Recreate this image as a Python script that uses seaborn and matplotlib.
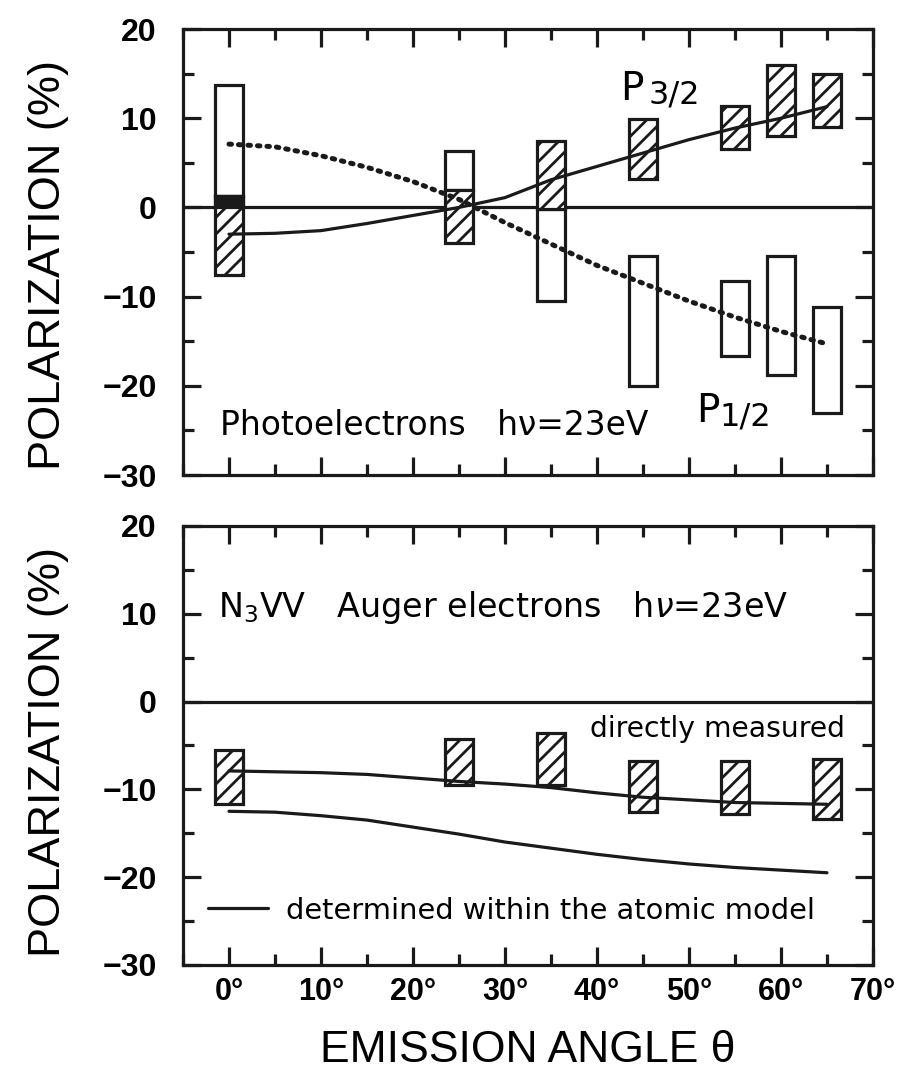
import numpy as np
import pandas as pd
import seaborn as sns
import matplotlib
matplotlib.use('Agg')
import matplotlib.pyplot as plt
from matplotlib.lines import Line2D
from matplotlib.ticker import MultipleLocator

# measured boxes, photoelectrons (upper panel)
box_angles = [0, 25, 35, 45, 55, 60, 65]
p32_lo = [-7.6, -4.0, -0.2, 3.2, 6.6, 8.0, 9.0]
p32_hi = [1.3, 1.9, 7.4, 9.9, 11.4, 16.0, 15.0]
p12_lo = [1.3, 1.9, -10.5, -20.0, -16.7, -18.8, -23.0]
p12_hi = [13.7, 6.3, -0.2, -5.5, -8.2, -5.5, -11.2]
overlap_angle = [0]
overlap_lo = [0.0]
overlap_hi = [1.3]

# theory curves, photoelectrons
curve_angles = [0, 5, 10, 15, 20, 25, 30, 35, 40, 45, 50, 55, 60, 65]
p32_curve = [-3.0, -2.9, -2.6, -1.8, -0.9, 0.0, 1.1, 3.1, 4.6, 6.1, 7.6, 8.9, 10.0, 11.3]
p12_curve = [7.1, 6.8, 5.8, 4.5, 2.9, 0.9, -1.7, -4.1, -6.5, -8.5, -10.5, -12.3, -13.9, -15.3]

# Auger electrons (lower panel)
auger_angles = [0, 25, 35, 45, 55, 65]
auger_lo = [-11.7, -9.5, -9.5, -12.6, -12.8, -13.4]
auger_hi = [-5.5, -4.3, -3.6, -6.8, -6.8, -6.5]
measured_curve = [-7.9, -8.0, -8.1, -8.3, -8.7, -9.1, -9.4, -9.8, -10.4, -10.9, -11.2, -11.5, -11.6, -11.7]
atomic_curve = [-12.5, -12.6, -13.0, -13.5, -14.3, -15.1, -16.0, -16.7, -17.4, -18.0, -18.5, -18.9, -19.2, -19.5]

yticks = [-30, -20, -10, 0, 10, 20]
ytick_labels = ['\u221230', '\u221220', '\u221210', '0', '10', '20']
xticks = [0, 10, 20, 30, 40, 50, 60, 70]
xtick_labels = ['0°', '10°', '20°', '30°', '40°', '50°', '60°', '70°']

sns.set_theme(style='white')
plt.rcParams['font.family'] = ['Liberation Sans', 'DejaVu Sans']
plt.rcParams['hatch.linewidth'] = 2.0
plt.rcParams['hatch.color'] = 'black'
for key in ['text.color', 'axes.labelcolor', 'xtick.color', 'ytick.color', 'axes.edgecolor']:
    plt.rcParams[key] = 'black'

fig = plt.figure(figsize=(9.01, 10.88), dpi=100)
ax1 = fig.add_axes([0.2031, 0.5634, 0.7658, 0.4099])
ax2 = fig.add_axes([0.2031, 0.1131, 0.7658, 0.4035])

BW = 3.0
LW = 2.3
INNER = ['DejaVu Sans']


def style(ax, show_x, label_y):
    ax.set_xlim(-5, 70)
    ax.set_ylim(-30, 20)
    ax.set_yticks(yticks, ytick_labels)
    ax.set_xticks(xticks, xtick_labels if show_x else [])
    ax.xaxis.set_minor_locator(MultipleLocator(5))
    ax.yaxis.set_minor_locator(MultipleLocator(5))
    ax.tick_params(which='both', direction='in', top=True, right=True,
                   bottom=True, left=True, width=LW, color='k')
    ax.tick_params(which='major', length=13)
    ax.tick_params(which='minor', length=8)
    ax.tick_params(axis='y', labelsize=23, pad=19)
    ax.tick_params(axis='x', labelsize=22, pad=9)
    for lab in ax.get_yticklabels() + ax.get_xticklabels():
        lab.set_fontweight('bold')
    for s in ax.spines.values():
        s.set_linewidth(LW)
        s.set_color('k')
    ax.axhline(0, color='k', lw=LW, zorder=2)
    ax.set_ylabel('POLARIZATION (%)', fontsize=32.5)
    ax.yaxis.set_label_coords(-0.165, label_y)


style(ax1, False, 0.47)
style(ax2, True, 0.484)

# upper panel
ax1.bar(box_angles, np.subtract(p12_hi, p12_lo), bottom=p12_lo, width=BW,
        facecolor='white', edgecolor='k', linewidth=LW, zorder=3)
ax1.bar(box_angles, np.subtract(p32_hi, p32_lo), bottom=p32_lo, width=BW,
        facecolor='white', edgecolor='k', linewidth=LW, hatch='//', zorder=3)
ax1.bar(overlap_angle, np.subtract(overlap_hi, overlap_lo), bottom=overlap_lo,
        width=BW, facecolor='k', edgecolor='k', linewidth=LW, zorder=3)
sns.lineplot(x=curve_angles, y=p32_curve, ax=ax1, color='k', lw=LW, zorder=4)
sns.lineplot(x=curve_angles, y=p12_curve, ax=ax1, color='k', lw=3.6,
             linestyle=(0, (0.5, 1.4)), dash_capstyle='round', zorder=4)
ax1.text(-1.0, -24.4, 'Photoelectrons   h\u03bd=23eV', fontsize=23.7,
         family=INNER, va='center', ha='left')
ax1.text(42.5, 12.0, 'P', fontsize=28, family=INNER, va='baseline', ha='left')
ax1.text(45.6, 11.7, '3/2', fontsize=23, family=INNER, va='baseline', ha='left')
ax1.text(50.8, -24.1, 'P', fontsize=28, family=INNER, va='baseline', ha='left')
ax1.text(53.3, -24.4, '1/2', fontsize=23, family=INNER, va='baseline', ha='left')

# lower panel
ax2.bar(auger_angles, np.subtract(auger_hi, auger_lo), bottom=auger_lo, width=BW,
        facecolor='white', edgecolor='k', linewidth=LW, hatch='//', zorder=3)
sns.lineplot(x=curve_angles, y=measured_curve, ax=ax2, color='k', lw=LW, zorder=4)
sns.lineplot(x=curve_angles, y=atomic_curve, ax=ax2, color='k', lw=LW, zorder=4)
ax2.text(-1.2, 10.7, r'N$\mathregular{_3}$VV   Auger electrons   h$\nu$=23eV',
         fontsize=24, family=INNER, va='center', ha='left')
ax2.text(67.0, -3.1, 'directly measured', fontsize=20.3, family=INNER,
         va='center', ha='right')
handle = Line2D([], [], color='k', lw=LW)
ax2.legend([handle], ['determined within the atomic model'], loc='center left',
           bbox_to_anchor=(0.036, 0.124), frameon=False,
           prop={'family': INNER, 'size': 20.8},
           handlelength=2.1, handletextpad=0.6, borderpad=0, borderaxespad=0)

ax2.set_xlabel('EMISSION ANGLE \u03b8', fontsize=32)
ax2.xaxis.set_label_coords(0.5, -0.148)

fig.savefig('out.png', dpi=100, facecolor='white')
